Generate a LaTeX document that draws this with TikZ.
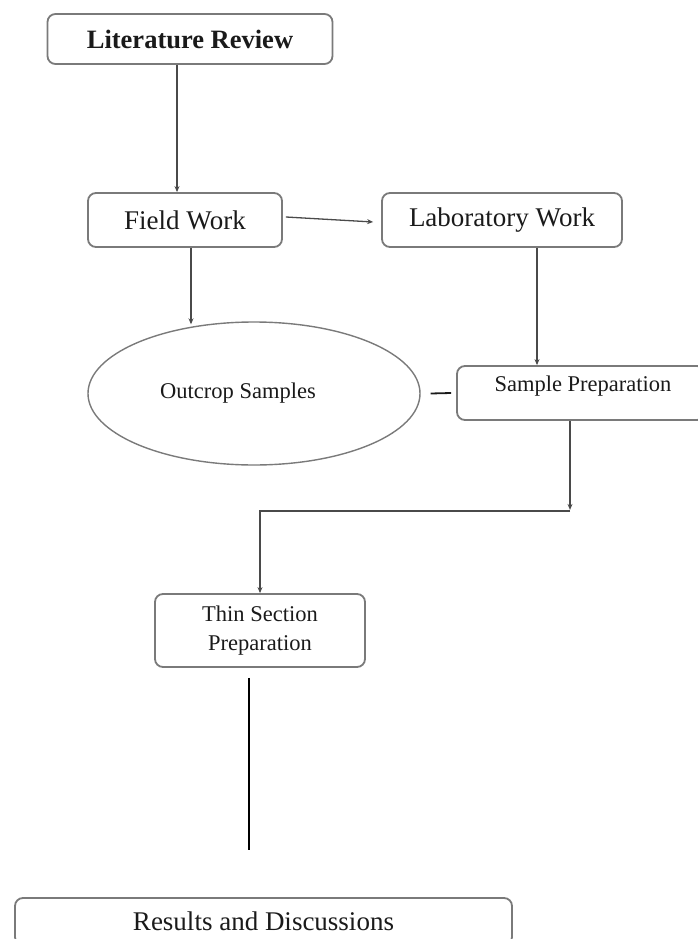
\documentclass[tikz,border=0pt]{standalone}
\usepackage{fontspec}
\setmainfont{Liberation Serif}
\usetikzlibrary{shapes.geometric,arrows.meta,calc}
\definecolor{boxgray}{HTML}{7A7A7A}
\definecolor{linegray}{HTML}{4A4A4A}
\definecolor{txt}{HTML}{1A1A1A}
\begin{document}
\begin{tikzpicture}[x=1pt,y=-1pt,
  box/.style={draw=boxgray,line width=1.8pt,rounded corners=8pt,inner sep=0pt,text=txt},
  bigtext/.style={font=\fontsize{27}{30}\selectfont},
  smalltext/.style={font=\fontsize{22.5}{29}\selectfont},
  arr/.style={draw=linegray,line width=1.3pt,-{Stealth[length=6pt,width=5pt]}},
  conn/.style={draw=linegray,line width=1.3pt}]
\useasboundingbox (0,0) rectangle (698,939);
\clip (0,0) rectangle (698,939);
\node[box,minimum width=285pt,minimum height=50pt,font=\fontsize{26.5}{30}\selectfont\bfseries] (lit) at (190,39) {Literature Review};
\node[box,bigtext,minimum width=194pt,minimum height=54pt] (fw) at (185,220) {Field Work};
\node[box,bigtext,minimum width=240pt,minimum height=54pt] (lab) at (502,220) {Laboratory Work};
\node[draw=boxgray,line width=1.4pt,ellipse,minimum width=332pt,minimum height=143pt,inner sep=0pt,
  label={[smalltext,text=txt,xshift=-16pt]center:Outcrop Samples}] (os) at (254,393.5) {};
\node[box,minimum width=248pt,minimum height=54pt,
  label={[smalltext,text=txt,xshift=2pt,yshift=7pt]center:Sample Preparation}] (sp) at (581,393) {};
\node[box,smalltext,minimum width=210pt,minimum height=73pt,align=center] (ts) at (260,630.5) {Thin Section\\Preparation};
\node[box,bigtext,minimum width=497pt,minimum height=47pt] (rd) at (263.5,921.5) {Results and Discussions};
% connectors
\draw[arr] ([xshift=-13pt]lit.south) -- ([xshift=-8pt]fw.north);
\draw[arr] ([xshift=3pt,yshift=3pt]fw.east) -- ([xshift=-8pt,yshift=-2pt]lab.west);
\draw[arr] ([xshift=6pt]fw.south) -- ($(fw.south |- os.north)+(6,3)$);
\draw[arr] ([xshift=35pt]lab.south) -- ([xshift=35pt]lab.south |- sp.north);
\draw[conn,draw=txt,line width=1.8pt] ([xshift=10pt]os.east) -- ([xshift=-5pt]sp.west);
\coordinate (bend) at ($(sp.south)+(-11,89)$);
\draw[arr] ([xshift=-11pt]sp.south) -- (bend);
\draw[arr] ($(bend)+(0,1)$) -| (ts.north);
\draw[line width=1.3pt,draw=black] ([xshift=-11pt,yshift=-10pt]ts.south) -- ($(rd.north)+(-14.5,-47)$);
\end{tikzpicture}
\end{document}
